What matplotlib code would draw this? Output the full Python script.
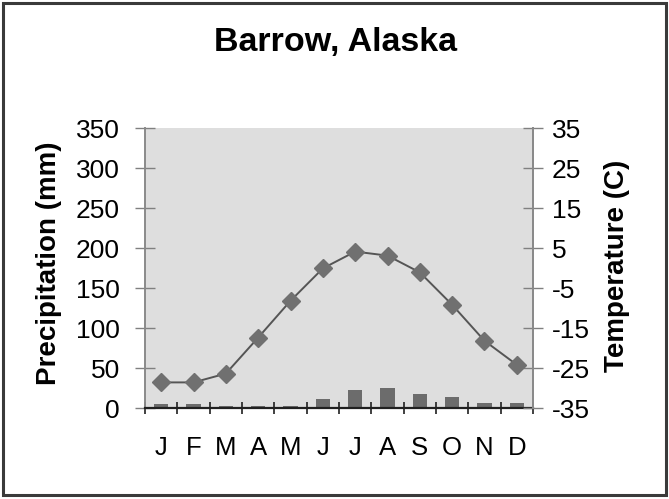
import matplotlib
matplotlib.use("Agg")
import matplotlib.pyplot as plt
from matplotlib.patches import Rectangle

months = ["J", "F", "M", "A", "M", "J", "J", "A", "S", "O", "N", "D"]
precip_mm = [5, 5, 2, 2, 2, 11, 22, 25, 17, 14, 6, 6]
temp_c = [-28.6, -28.6, -26.4, -17.4, -8.2, -0.1, 4.1, 3.1, -1.1, -9.2, -18.2, -24.2]
precip_ticks = [0, 50, 100, 150, 200, 250, 300, 350]
temp_ticks = [-35, -25, -15, -5, 5, 15, 25, 35]

plt.rcParams['font.family'] = ['Liberation Sans', 'DejaVu Sans']
plt.rcParams['axes.unicode_minus'] = False

fig = plt.figure(figsize=(6.69, 4.99), dpi=100)
fig.patch.set_facecolor("white")
fig.patches.append(Rectangle((3 / 669, 4 / 499), 663 / 669, 492 / 499,
                             transform=fig.transFigure, fill=False,
                             edgecolor="#3a3a3a", linewidth=2.2))

ax = fig.add_axes([145 / 669, 1 - 408 / 499, 388 / 669, 280 / 499])
ax.set_facecolor("#dedede")
x = list(range(len(months)))
ax.bar(x, precip_mm, width=0.45, color="#6c6c6c", zorder=2)
ax.set_xlim(-0.5, 11.5)
ax.set_ylim(0, 350)
ax.set_yticks(precip_ticks)
ax.set_xticks(x)
ax.set_xticklabels(months)
ax.set_xticks([i - 0.5 for i in range(13)], minor=True)
ax.tick_params(axis="x", which="major", length=0, pad=20, labelsize=18.5)
ax.tick_params(axis="x", which="minor", length=8, width=1.2, direction="inout",
               color="#202020")
ax.tick_params(axis="y", length=14, width=1.0, direction="inout", color="#808080",
               labelsize=19, pad=11)
ax.spines["top"].set_visible(False)
ax.spines["bottom"].set_color("#202020")
ax.spines["bottom"].set_linewidth(1.6)
ax.spines["left"].set_color("#8a8a8a")
ax.spines["left"].set_linewidth(1.4)
ax.spines["right"].set_color("#8a8a8a")
ax.spines["right"].set_linewidth(1.4)

ax2 = ax.twinx()
ax2.plot(x, temp_c, color="#555555", linewidth=1.4, marker="D", markersize=9,
         markerfacecolor="#707070", markeredgecolor="#707070", zorder=3)
ax2.set_ylim(-35, 35)
ax2.set_yticks(temp_ticks)
ax2.tick_params(axis="y", length=14, width=1.0, direction="inout", color="#808080",
                labelsize=19, pad=6.5)
for side in ["top", "left", "bottom"]:
    ax2.spines[side].set_visible(False)
ax2.spines["right"].set_color("#8a8a8a")
ax2.spines["right"].set_linewidth(1.4)

fig.text(49 / 669, 1 - 263 / 499, "Precipitation (mm)", rotation=90,
         ha="center", va="center", fontsize=20, fontweight="bold")
fig.text(617 / 669, 1 - 266 / 499, "Temperature (C)", rotation=90,
         ha="center", va="center", fontsize=20, fontweight="bold")

fig.text(335 / 669, 1 - 42 / 499, "Barrow, Alaska", ha="center", va="center",
         fontsize=24.5, fontweight="bold")

fig.savefig("out.png", dpi=100)
